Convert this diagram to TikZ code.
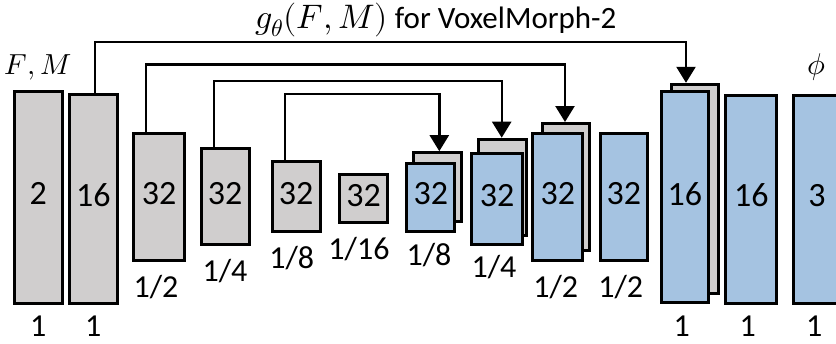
\documentclass[tikz,border=0pt]{standalone}
\usepackage{fontspec}
\setmainfont{Carlito}
\usepackage{unicode-math}
\usetikzlibrary{arrows.meta}
\definecolor{encgray}{RGB}{208,206,206}
\definecolor{decblue}{RGB}{165,195,225}
\begin{document}
\begin{tikzpicture}[x=1pt,y=-1pt,
  layer/.style={draw=black, line width=3pt, inner sep=0pt, text depth=7pt,
                font=\fontsize{34}{34}\selectfont},
  enc/.style={layer, fill=encgray},
  dec/.style={layer, fill=decblue},
  lbl/.style={inner sep=0pt, font=\fontsize{32}{32}\selectfont},
  skip/.style={draw=black, line width=2.4pt, -{Triangle[width=19pt,length=16pt]}},
]
\useasboundingbox (0,0) rectangle (836,343);
\clip (0,0) rectangle (836,343);

% encoder
\node[enc, minimum width=48, minimum height=212] (b1) at (38.3,197) {2};
\node[enc, minimum width=48, minimum height=209] (b2) at (93.3,198.7) {16};
\node[enc, minimum width=51, minimum height=127] (b3) at (159.2,197) {32};
\node[enc, minimum width=48, minimum height=96] (b4) at (225.2,196.8) {32};
\node[enc, minimum width=48, minimum height=70] (b5) at (296,196.8) {32};
\node[enc, minimum width=48, minimum height=48] (b6) at (363.5,198.7) {32};

% decoder: concatenated skip features behind the upsampled ones
\node[enc, minimum width=48, minimum height=69] (c7) at (437.7,187.2) {};
\node[dec, minimum width=48, minimum height=68] (b7) at (430.8,197.3) {32};
\node[enc, minimum width=48, minimum height=96] (c8) at (502,187.2) {};
\node[dec, minimum width=51, minimum height=91] (b8) at (497,199) {32};
\node[enc, minimum width=47, minimum height=127] (c9) at (566.3,187) {};
\node[dec, minimum width=50, minimum height=127] (b9) at (557.8,197) {32};
\node[dec, minimum width=47, minimum height=127] (b10) at (623.8,197) {32};
\node[enc, minimum width=47, minimum height=209] (c11) at (695,188.8) {};
\node[dec, minimum width=47, minimum height=211] (b11) at (684.8,197.3) {16};
\node[dec, minimum width=51, minimum height=208] (b12) at (751.3,199) {16};
\node[dec, minimum width=48, minimum height=208] (b13) at (817,199) {3};

% resolution labels
\node[lbl] (r1) at (b1.south |- 0,326) {1};
\node[lbl] (r2) at (b2.south |- 0,326) {1};
\node[lbl] (r3) at (156,287) {1/2};
\node[lbl] (r4) at (225,271) {1/4};
\node[lbl] (r5) at (291.7,258) {1/8};
\node[lbl] (r6) at (359,249.3) {1/16};
\node[lbl] (r7) at (429,255) {1/8};
\node[lbl] (r8) at (494,267.5) {1/4};
\node[lbl] (r9) at (555.7,286.7) {1/2};
\node[lbl] (r10) at (620.7,286.7) {1/2};
\node[lbl] (r11) at (681.7,326) {1};
\node[lbl] (r12) at (747.7,326) {1};
\node[lbl] (r13) at (814.3,326) {1};

% inputs, output and title
\node[lbl, font=\fontsize{29}{29}\selectfont] (fm) at (38,67) {$F,M$};
\node[lbl, font=\fontsize{30}{30}\selectfont] (phi) at (816.7,66.7) {$\phi$};
\node[lbl, anchor=base west, font=\fontsize{31}{31}\selectfont] (title) at (255,28)
  {\fontsize{34}{34}\selectfont$g_\theta(F,M)$\fontsize{31}{31}\selectfont\ for VoxelMorph-2};

% skip connections
\draw[skip] ([xshift=1.7pt]b2.north) -- ([xshift=1.7pt]b2.north |- 0,41.7) -| ([xshift=-9pt]c11.north);
\draw[skip] ([xshift=-13.5pt]b3.north) -- ([xshift=-13.5pt]b3.north |- 0,64.3) -| ([xshift=-1.3pt]c9.north);
\draw[skip] ([xshift=-11.5pt]b4.north) -- ([xshift=-11.5pt]b4.north |- 0,80.7) -| ([xshift=-0.3pt]c8.north);
\draw[skip] ([xshift=-11pt]b5.north) -- ([xshift=-11pt]b5.north |- 0,94) -| ([xshift=1.6pt]c7.north);
\end{tikzpicture}
\end{document}
